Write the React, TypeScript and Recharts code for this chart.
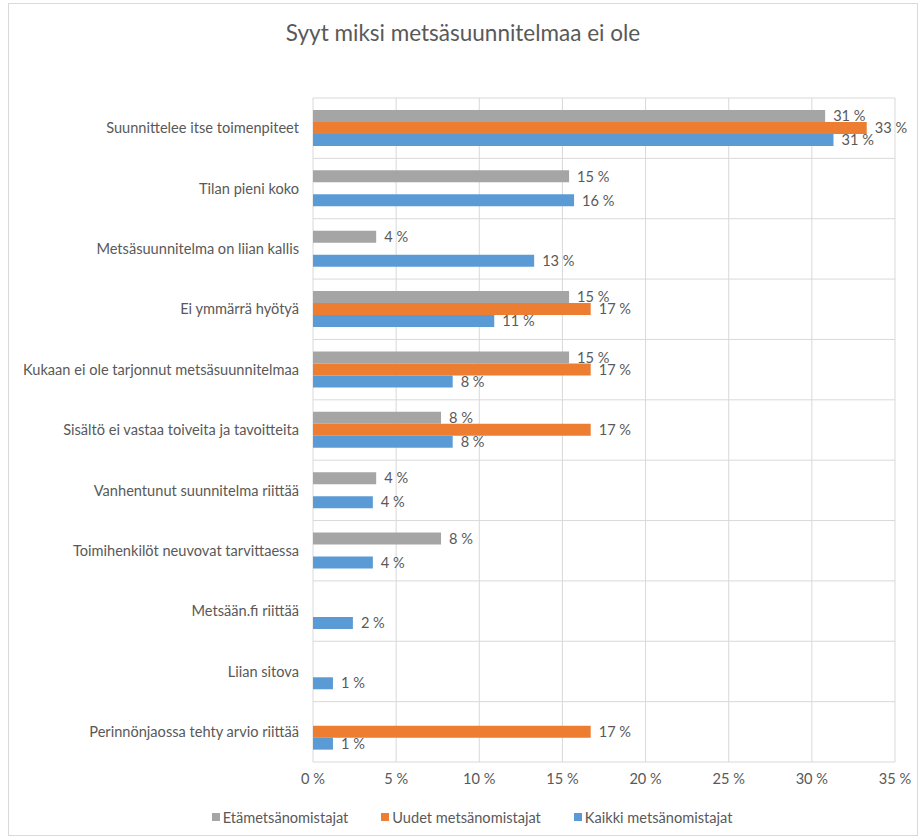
import React from 'react';
import {
  BarChart,
  Bar,
  XAxis,
  YAxis,
  CartesianGrid,
  Legend,
  LabelList,
} from 'recharts';

const categories = [
  'Suunnittelee itse toimenpiteet',
  'Tilan pieni koko',
  'Metsäsuunnitelma on liian kallis',
  'Ei ymmärrä hyötyä',
  'Kukaan ei ole tarjonnut metsäsuunnitelmaa',
  'Sisältö ei vastaa toiveita ja tavoitteita',
  'Vanhentunut suunnitelma riittää',
  'Toimihenkilöt neuvovat tarvittaessa',
  'Metsään.fi riittää',
  'Liian sitova',
  'Perinnönjaossa tehty arvio riittää',
];

// values in percent, null = no bar
const etametsanomistajat = [30.8, 15.4, 3.8, 15.4, 15.4, 7.7, 3.8, 7.7, null, null, null];
const uudetMetsanomistajat = [33.3, null, null, 16.7, 16.7, 16.7, null, null, null, null, 16.7];
const kaikkiMetsanomistajat = [31.3, 15.7, 13.3, 10.9, 8.4, 8.4, 3.6, 3.6, 2.4, 1.2, 1.2];

const xTicks = [0, 5, 10, 15, 20, 25, 30, 35];

const seriesNames = ['Etämetsänomistajat', 'Uudet metsänomistajat', 'Kaikki metsänomistajat'];
const seriesColors = ['#a5a5a5', '#ed7d31', '#5b9bd5'];

const data = categories.map((name, i) => ({
  name,
  eta: etametsanomistajat[i],
  uudet: uudetMetsanomistajat[i],
  kaikki: kaikkiMetsanomistajat[i],
}));

const FONT = 'Lato, "Open Sans", sans-serif';
const TEXT = '#595959';
const FS = 14.6;

const pct = (v: any) => (v == null ? '' : `${Math.round(Number(v))} %`);

function LegendContent() {
  return (
    <div
      style={{
        height: 30,
        display: 'flex',
        justifyContent: 'center',
        alignItems: 'center',
        gap: 33,
        fontFamily: FONT,
        fontSize: FS,
        color: TEXT,
        paddingLeft: 40,
      }}
    >
      {seriesNames.map((n, i) => (
        <div key={n} style={{ display: 'flex', alignItems: 'center' }}>
          <span style={{ width: 8, height: 8, background: seriesColors[i], marginRight: 3 }} />
          <span>{n}</span>
        </div>
      ))}
    </div>
  );
}

export default function App() {
  return (
    <div
      style={{
        position: 'absolute',
        left: 8,
        top: 3,
        width: 908,
        height: 831,
        border: '1px solid #d9d9d9',
        background: '#fff',
      }}
    >
      <div
        style={{
          position: 'absolute',
          top: 15,
          left: 0,
          width: '100%',
          textAlign: 'center',
          fontFamily: FONT,
          fontSize: 22.5,
          color: TEXT,
        }}
      >
        Syyt miksi metsäsuunnitelmaa ei ole
      </div>
      <BarChart
        width={908}
        height={831}
        data={data}
        layout="vertical"
        margin={{ top: 94, right: 22, left: 0, bottom: 3 }}
        barGap={0}
        barSize={12}
      >
        <CartesianGrid
          stroke="#d9d9d9"
          horizontalCoordinatesGenerator={({ offset }: any) =>
            Array.from({ length: categories.length + 1 }, (_, i) => offset.top + (i * offset.height) / categories.length)
          }
        />
        <XAxis
          type="number"
          domain={[0, 35]}
          ticks={xTicks}
          tickFormatter={pct}
          axisLine={false}
          tickLine={false}
          tickSize={0}
          tickMargin={12}
          height={40}
          tick={{ fill: TEXT, fontSize: FS, fontFamily: FONT }}
        />
        <YAxis
          type="category"
          dataKey="name"
          width={304}
          axisLine={false}
          tickLine={false}
          tickSize={0}
          tickMargin={14}
          interval={0}
          tick={{ fill: TEXT, fontSize: FS, fontFamily: FONT }}
        />
        <Legend verticalAlign="bottom" height={30} content={<LegendContent />} />
        <Bar dataKey="eta" name={seriesNames[0]} fill={seriesColors[0]} isAnimationActive={false}>
          <LabelList dataKey="eta" position="right" formatter={pct} fill={TEXT} fontSize={FS} fontFamily={FONT} offset={8} />
        </Bar>
        <Bar dataKey="uudet" name={seriesNames[1]} fill={seriesColors[1]} isAnimationActive={false}>
          <LabelList dataKey="uudet" position="right" formatter={pct} fill={TEXT} fontSize={FS} fontFamily={FONT} offset={8} />
        </Bar>
        <Bar dataKey="kaikki" name={seriesNames[2]} fill={seriesColors[2]} isAnimationActive={false}>
          <LabelList dataKey="kaikki" position="right" formatter={pct} fill={TEXT} fontSize={FS} fontFamily={FONT} offset={8} />
        </Bar>
      </BarChart>
    </div>
  );
}
